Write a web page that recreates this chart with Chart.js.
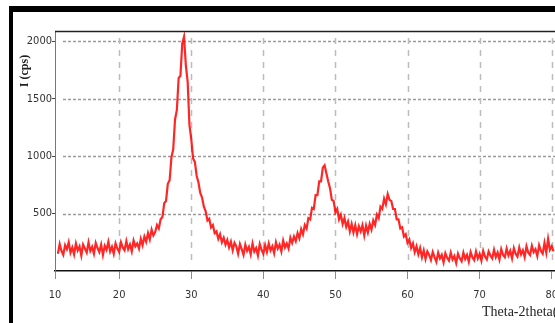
<!DOCTYPE html>
<html>
<head>
<meta charset="utf-8">
<script src="https://cdn.jsdelivr.net/npm/chart.js@4/dist/chart.umd.min.js"></script>
<style>
  html, body { margin: 0; padding: 0; background: #fff; overflow: hidden; }
  #wrap { position: relative; width: 555px; height: 323px; overflow: hidden; }
  #frame { position: absolute; left: 9px; top: 6px; width: 700px; height: 400px;
           border-left: 4px solid #000; border-top: 6px solid #000; }
  #xrd { position: absolute; left: 0; top: 0; }
</style>
</head>
<body>
<div id="wrap">
  <div id="frame"></div>
  <canvas id="xrd" width="620" height="323"></canvas>
</div>
<script>
// scan settings (2theta start and step, degrees)
var startAngle = 11.5;
var stepAngle = 0.25;

// intensity in cps (noisy scan)
var intensity = [
  150, 235, 175, 140, 225, 190, 250, 160, 205, 145, 240, 180, 215, 135, 230, 195, 160,
  250, 175, 210, 150, 245, 200, 165, 230, 140, 220, 185, 255, 170, 210, 150, 240, 195,
  165, 250, 205, 180, 260, 190, 230, 170, 265, 215, 240, 195,
  280, 225, 300, 255, 330, 275, 360, 310, 340, 400, 370, 450,
  470, 590, 610, 760, 790, 990, 1060, 1320, 1400, 1680, 1700, 1980,
  2040, 1790, 1650, 1270, 1150, 980, 950, 830, 770, 680, 640, 560,
  520, 440, 455, 380, 400, 330, 345, 280, 320, 250, 290, 230,
  270, 205, 255, 180, 245, 215, 150, 235, 190, 140, 230, 175,
  210, 145, 240, 170, 200, 135, 235, 185, 150, 225, 165, 240,
  180, 215, 155, 250, 195, 230, 170, 265, 205, 240, 195, 290,
  245, 300, 260, 330, 285, 365, 320, 400, 370, 460, 450, 550,
  540, 660, 660, 780, 780, 900, 920, 850, 780, 720, 620, 610,
  510, 540, 450, 490, 410, 460, 385, 430, 345, 410, 335, 400,
  320, 390, 345, 400, 310, 395, 335, 410, 360, 440, 400, 490,
  460, 560, 540, 630, 580, 670, 620, 610, 540, 540, 450, 450,
  370, 380, 300, 320, 245, 275, 200, 240, 165, 215, 145, 200,
  120, 180, 105, 170, 140, 95, 165, 120, 80, 160, 110, 140,
  75, 155, 115, 90, 160, 100, 130, 70, 150, 110, 85, 160,
  105, 140, 80, 165, 120, 95, 170, 110, 150, 90, 175, 125,
  100, 170, 135, 110, 185, 120, 160, 100, 190, 140, 120, 195,
  135, 175, 110, 200, 150, 125, 205, 145, 180, 120, 215, 160,
  140, 220, 165, 190, 130, 225, 175, 150, 245, 160, 280, 185,
  215, 170
];

var xTickValues = [20, 30, 40, 50, 60, 70, 80];
var yTickValues = [500, 1000, 1500, 2000];
var xMin = 11.1, xMax = 86.7;
var yMin = 0, yMax = 2090;

var points = intensity.map(function (v, i) {
  return { x: startAngle + i * stepAngle, y: v };
});

var tickFont = { family: "'DejaVu Sans Condensed', 'Liberation Sans Narrow', sans-serif", size: 11 };

// dashed grid, kept a few pixels off the axes like the original plot
var insetGrid = {
  id: 'insetGrid',
  beforeDatasetsDraw: function (chart) {
    var c = chart.ctx, a = chart.chartArea;
    var xs = chart.scales.x, ys = chart.scales.y;
    c.save();
    c.lineWidth = 1.5;
    c.strokeStyle = '#9a9a9a';
    c.setLineDash([3, 2]);
    yTickValues.forEach(function (v) {
      var y = Math.round(ys.getPixelForValue(v)) + 0.5;
      c.beginPath(); c.moveTo(a.left + 8, y); c.lineTo(a.right, y); c.stroke();
    });
    c.strokeStyle = '#bcbcbc';
    c.setLineDash([6, 6]);
    xTickValues.forEach(function (v) {
      var x = Math.round(xs.getPixelForValue(v)) + 0.5;
      c.beginPath(); c.moveTo(x, a.top + 7); c.lineTo(x, a.bottom - 7); c.stroke();
    });
    c.restore();
  },
  afterDraw: function (chart) {
    var c = chart.ctx, a = chart.chartArea;
    c.save();
    c.strokeStyle = '#222';
    c.lineWidth = 1.5;
    c.beginPath(); c.moveTo(a.left, a.top + 0.5); c.lineTo(a.right, a.top + 0.5); c.stroke();
    c.fillStyle = '#222';
    c.font = "14px 'Liberation Serif', serif";
    c.textAlign = 'left';
    c.textBaseline = 'middle';
    c.fillText('Theta-2theta(deg)', 482, 312);
    c.translate(25, 71);
    c.rotate(-Math.PI / 2);
    c.font = "bold 12px 'Liberation Serif', serif";
    c.textAlign = 'center';
    c.fillText('I (cps)', 0, 0);
    c.restore();
  }
};

var ctx = document.getElementById('xrd').getContext('2d');
var chart = new Chart(ctx, {
  type: 'line',
  data: {
    datasets: [{
      label: 'sample',
      data: points,
      borderColor: 'rgba(255, 0, 0, 0.85)',
      borderWidth: 2.2,
      pointRadius: 0,
      tension: 0,
      fill: false
    }]
  },
  options: {
    responsive: false,
    animation: false,
    layout: { padding: { left: 0, top: 31, right: 20, bottom: 0 } },
    plugins: { legend: { display: false }, tooltip: { enabled: false } },
    scales: {
      x: {
        type: 'linear',
        min: xMin,
        max: xMax,
        afterBuildTicks: function (s) {
          s.ticks = [{ value: xMin }].concat(xTickValues.map(function (v) { return { value: v }; }));
        },
        afterFit: function (s) { s.height = 52; },
        grid: { drawOnChartArea: false, tickLength: 8, tickColor: '#8a8a8a', tickWidth: 1 },
        border: { color: '#111', width: 1.5 },
        ticks: {
          font: tickFont,
          color: '#333',
          padding: 10,
          maxRotation: 0,
          autoSkip: false,
          callback: function (v) { return v === xMin ? '10' : String(v); }
        }
      },
      y: {
        min: yMin,
        max: yMax,
        afterBuildTicks: function (s) {
          s.ticks = yTickValues.map(function (v) { return { value: v }; });
        },
        afterFit: function (s) { s.width = 55; },
        grid: { drawOnChartArea: false, tickLength: 3, tickColor: '#444', tickWidth: 1 },
        border: { color: '#777', width: 1 },
        ticks: {
          font: tickFont,
          color: '#333',
          padding: 0,
          callback: function (v) { return String(v); }
        }
      }
    }
  },
  plugins: [insetGrid]
});
</script>
</body>
</html>
